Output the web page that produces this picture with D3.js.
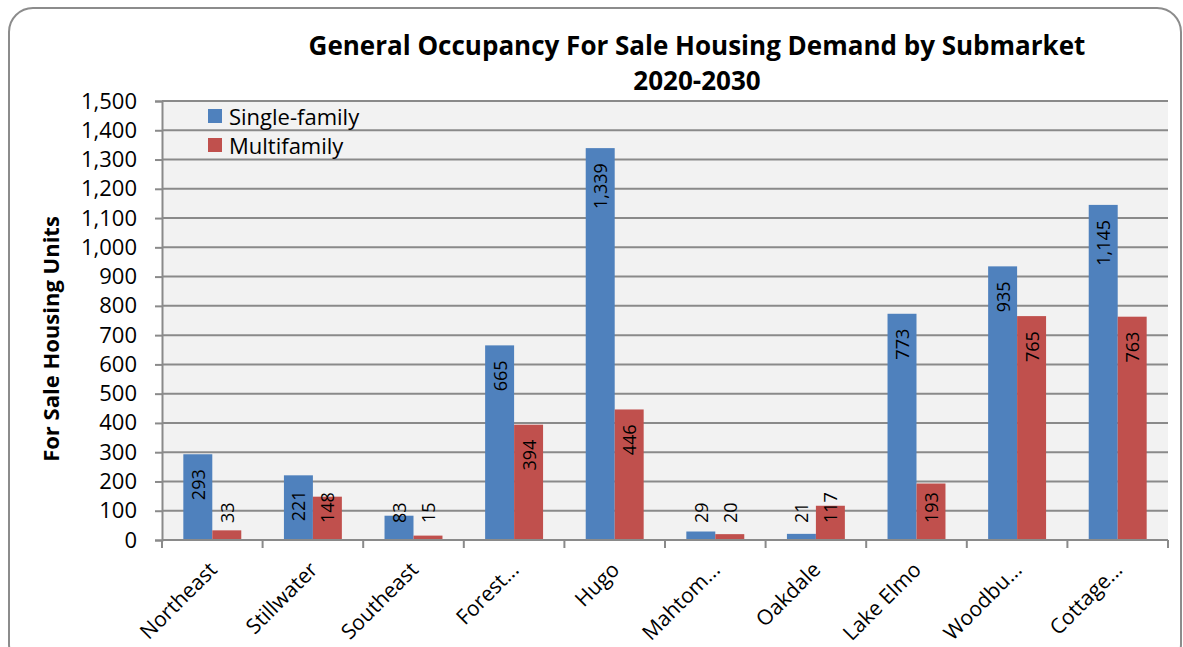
<!DOCTYPE html>
<html>
<head>
<meta charset="utf-8">
<script src="https://cdn.jsdelivr.net/npm/d3@7"></script>
<style>
  html, body { margin: 0; padding: 0; background: #ffffff; }
  svg { display: block; font-family: "Open Sans", Lato, sans-serif; }
</style>
</head>
<body>
<svg id="chart" width="1183" height="647"></svg>
<script>
// Submarkets and projected for-sale demand, 2020-2030
const categories = ["Northeast", "Stillwater", "Southeast", "Forest...", "Hugo",
                    "Mahtom...", "Oakdale", "Lake Elmo", "Woodbu...", "Cottage..."];
const seriesNames = ["Single-family", "Multifamily"];
const singleFamily = [293, 221, 83, 665, 1339, 29, 21, 773, 935, 1145];
const multifamily  = [33, 148, 15, 394, 446, 20, 117, 193, 765, 763];
const yTicks = [0, 100, 200, 300, 400, 500, 600, 700, 800, 900, 1000, 1100, 1200, 1300, 1400, 1500];
const titleLines = ["General Occupancy  For Sale Housing Demand by Submarket", "2020-2030"];
const yTitle = "For Sale Housing Units";

const colors = { "Single-family": "#4f81bd", "Multifamily": "#c0504d" };
const seriesValues = { "Single-family": singleFamily, "Multifamily": multifamily };

const svg = d3.select("#chart");
const plot = { left: 162, right: 1168, top: 101, bottom: 540 };

// outer chart frame
svg.append("rect")
  .attr("x", 9).attr("y", 8).attr("width", 1172).attr("height", 660)
  .attr("rx", 24).attr("ry", 24)
  .attr("fill", "#ffffff").attr("stroke", "#8c8c8c").attr("stroke-width", 2);

const x0 = d3.scaleBand().domain(categories).range([plot.left, plot.right]).padding(0);
const bw = x0.bandwidth();
const x1 = d3.scaleBand().domain(seriesNames).range([bw * 0.212, bw * 0.788]).padding(0);
const y = d3.scaleLinear().domain([0, 1500]).range([plot.bottom, plot.top]);

// plot background
svg.append("rect")
  .attr("x", plot.left).attr("y", plot.top)
  .attr("width", plot.right - plot.left).attr("height", plot.bottom - plot.top)
  .attr("fill", "#f2f2f2");

// horizontal gridlines
svg.append("g").selectAll("line").data(yTicks.filter(d => d > 0)).join("line")
  .attr("x1", plot.left).attr("x2", plot.right)
  .attr("y1", d => y(d)).attr("y2", d => y(d))
  .attr("stroke", "#8a8a8a").attr("stroke-width", 2);

// y axis
const yAxis = svg.append("g")
  .attr("transform", `translate(${plot.left},0)`)
  .call(d3.axisLeft(y).tickValues(yTicks).tickSize(7).tickPadding(18)
        .tickFormat(d3.format(",")));
yAxis.select(".domain").attr("stroke", "#8a8a8a").attr("stroke-width", 2);
yAxis.selectAll(".tick line").attr("stroke", "#8a8a8a").attr("stroke-width", 2);
yAxis.selectAll(".tick text")
  .attr("font-size", 22).attr("fill", "#000").attr("font-family", "'Open Sans', sans-serif");

// bars
const rows = categories.map((c, i) => ({
  cat: c,
  vals: seriesNames.map(s => ({ series: s, value: seriesValues[s][i] }))
}));

const groups = svg.append("g").selectAll("g").data(rows).join("g")
  .attr("transform", d => `translate(${x0(d.cat)},0)`);

groups.selectAll("rect").data(d => d.vals).join("rect")
  .attr("x", d => x1(d.series))
  .attr("y", d => y(d.value))
  .attr("width", x1.bandwidth())
  .attr("height", d => y(0) - y(d.value))
  .attr("fill", d => colors[d.series]);

// value labels, rotated, near the top of each bar
const fmt = d3.format(",");
groups.selectAll("text.val").data(d => d.vals).join("text")
  .attr("class", "val")
  .text(d => fmt(d.value))
  .attr("font-size", 18)
  .attr("fill", "#000")
  .attr("dominant-baseline", "central")
  .attr("text-anchor", "start")
  .each(function(d) {
    const len = this.getComputedTextLength();
    const cx = x1(d.series) + x1.bandwidth() / 2;
    const bottom = Math.min(y(d.value) + 15 + len, 523);
    d3.select(this).attr("transform", `translate(${cx},${bottom}) rotate(-90)`);
  });

// x axis line and ticks at category boundaries
svg.append("line")
  .attr("x1", plot.left).attr("x2", plot.right)
  .attr("y1", plot.bottom).attr("y2", plot.bottom)
  .attr("stroke", "#8a8a8a").attr("stroke-width", 2);
const bounds = categories.map(c => x0(c)).concat([plot.right]);
svg.append("g").selectAll("line").data(bounds).join("line")
  .attr("x1", d => d).attr("x2", d => d)
  .attr("y1", plot.bottom).attr("y2", plot.bottom + 8)
  .attr("stroke", "#8a8a8a").attr("stroke-width", 2);

// category labels
svg.append("g").selectAll("text").data(categories).join("text")
  .text(d => d)
  .attr("font-size", 21)
  .attr("fill", "#000")
  .attr("text-anchor", "end")
  .attr("transform", d => `translate(${x0(d) + bw / 2 + 6},${plot.bottom + 31}) rotate(-45)`);

// title
svg.append("g").selectAll("text").data(titleLines).join("text")
  .text(d => d)
  .attr("x", 697)
  .attr("y", (d, i) => 55 + i * 35)
  .attr("text-anchor", "middle")
  .attr("font-size", 26)
  .attr("font-weight", "bold")
  .attr("fill", "#000");

// y axis title
svg.append("text")
  .text(yTitle)
  .attr("transform", "translate(59,339) rotate(-90)")
  .attr("text-anchor", "middle")
  .attr("font-size", 22)
  .attr("font-weight", "bold")
  .attr("fill", "#000");

// legend
const legend = svg.append("g").selectAll("g").data(seriesNames).join("g")
  .attr("transform", (d, i) => `translate(208,${109 + i * 29})`);
legend.append("rect")
  .attr("width", 14).attr("height", 14)
  .attr("fill", d => colors[d]);
legend.append("text")
  .text(d => d)
  .attr("x", 21).attr("y", 7)
  .attr("dominant-baseline", "central")
  .attr("font-size", 22)
  .attr("fill", "#000");
</script>
</body>
</html>
